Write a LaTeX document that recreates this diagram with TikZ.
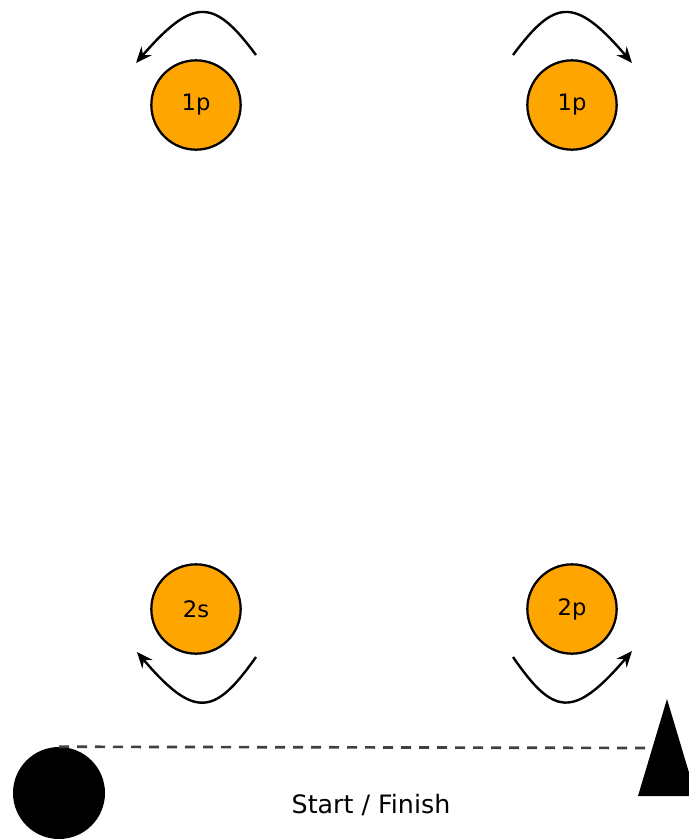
\documentclass[tikz,border=0pt]{standalone}
\usepackage{fontspec}
\setmainfont{DejaVu Sans}
\usepackage{tikz}
\usetikzlibrary{arrows.meta}

\definecolor{cone}{RGB}{255,165,0}

\begin{document}
\begin{tikzpicture}[
  x=0.75pt, y=-0.75pt,
  player/.style={
    circle, draw, fill=cone, line width=1.7pt,
    inner sep=0pt, minimum width=67pt,
    font=\fontsize{17}{19}\selectfont
  },
  turn/.style={
    line width=1.8pt,
    -{Stealth[length=12pt, width=10pt, inset=4pt]}
  }
]
  \useasboundingbox (0,0) rectangle (689,840);
  \foreach \pos/\nm/\lbl in {{(196,105)}/p1l/1p,{(572,105)}/p1r/1p,
                             {(196,609)}/s2/2s,{(572,609)}/p2r/2p} {
    \node[player] (\nm) at \pos {\lbl};
  }
  % turning arrows
  \draw[turn] (256,55) .. controls (215,0) and (195,-5) .. (136,63);
  \draw[turn] (513,55) .. controls (554,0) and (574,-5) .. (632,63);
  \draw[turn] (256,657) .. controls (215,715) and (195,720) .. (137,652);
  \draw[turn] (513,657) .. controls (553,715) and (573,720) .. (632,651);
  % start and finish
  \node[circle, fill=black, inner sep=0pt, minimum width=69pt] (start) at (59,793) {};
  \fill (638,796) -- (667,699) -- (696,796) -- cycle;
  \coordinate (finish) at (652,748);
  \draw[line width=2pt, black!75, dash pattern=on 7.5pt off 6pt] (start.north) -- (finish);
  \node[font=\fontsize{19}{22}\selectfont] (label) at (371,805) {Start / Finish};
\end{tikzpicture}
\end{document}
